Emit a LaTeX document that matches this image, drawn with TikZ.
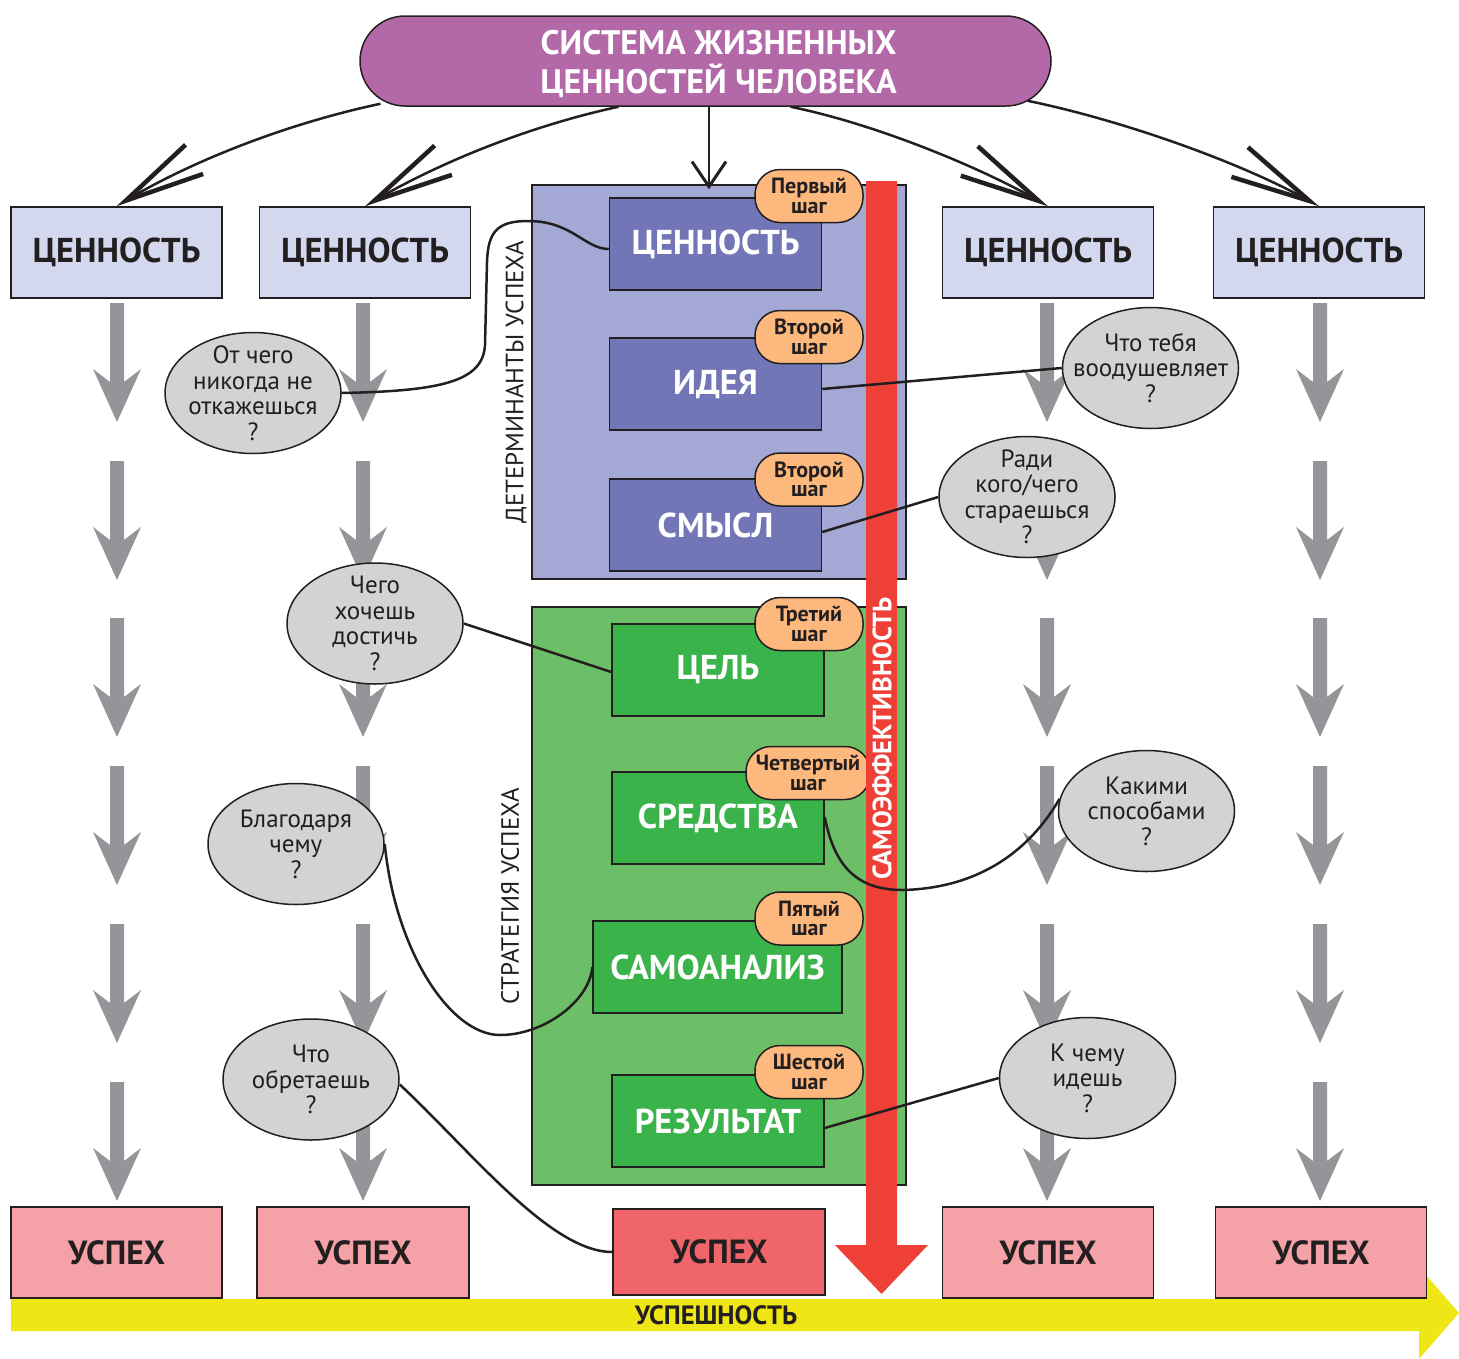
\documentclass[tikz,border=0pt]{standalone}
\usepackage{fontspec}
\setmainfont{PT Sans}
\usetikzlibrary{arrows.meta,shapes.geometric}
\definecolor{dk}{HTML}{231F20}
\definecolor{pillc}{HTML}{B368A8}
\definecolor{valc}{HTML}{D4D8EE}
\definecolor{detc}{HTML}{A3A8D5}
\definecolor{detinc}{HTML}{7376B6}
\definecolor{strc}{HTML}{6CBF67}
\definecolor{strinc}{HTML}{3AB34A}
\definecolor{badgec}{HTML}{FDB97D}
\definecolor{questc}{HTML}{D1D3D4}
\definecolor{grayc}{HTML}{939598}
\definecolor{redc}{HTML}{EE4036}
\definecolor{uspc}{HTML}{F5A1A8}
\definecolor{uspdc}{HTML}{F06569}
\definecolor{yelc}{HTML}{EFE616}
\newcommand\fsz[2]{\fontsize{#1}{#2}\selectfont}
\begin{document}
\begin{tikzpicture}[x=1pt,y=-1pt,
  pill/.style={draw=dk, line width=1.5pt, fill=pillc, rounded corners=45pt, minimum width=691pt, minimum height=90pt, inner sep=0pt},
  pilltext/.style={align=center, inner sep=0pt, text=white, font=\bfseries\fsz{34}{39}},
  valbox/.style={draw=dk, line width=1.5pt, fill=valc, minimum width=211pt, minimum height=91pt, inner sep=0pt, text=dk, font=\bfseries\fsz{34.5}{36}},
  outbox/.style={draw=dk, line width=1.5pt, minimum width=374pt, inner sep=0pt},
  detin/.style={draw=dk, line width=1.5pt, fill=detinc, minimum width=212pt, minimum height=92pt, inner sep=0pt, text=white, font=\bfseries\fsz{34.5}{36}},
  strin/.style={detin, fill=strinc},
  badge/.style={draw=dk, line width=1.5pt, fill=badgec, rounded corners=25pt, minimum width=108pt, minimum height=53pt, inner sep=0pt, align=center, text=dk, font=\bfseries\fsz{22}{19.5}},
  quest/.style={ellipse, draw=dk, line width=1.5pt, fill=questc, minimum width=176pt, minimum height=121pt, inner sep=0pt},
  qtext/.style={align=center, text=dk, inner sep=0pt, font=\fsz{25}{25.5}},
  uspbox/.style={draw=dk, line width=1.5pt, fill=uspc, minimum width=211pt, minimum height=91pt, inner sep=0pt, text=dk, font=\bfseries\fsz{33.5}{34}},
  conn/.style={draw=dk, line width=2.5pt},
  bigarr/.style={draw=dk, line width=2.5pt, -{Straight Barb[length=80pt,width=34pt,line width=4.5pt]}},
  smallarr/.style={draw=dk, line width=2.5pt, -{Straight Barb[length=25pt,width=34pt,line width=3pt]}},
  vlabel/.style={rotate=90, inner sep=0pt, text=dk, font=\fsz{25}{26}}
]
\useasboundingbox (0,0) rectangle (1459,1358);

% top pill and value boxes
\node[pill] (pill) at (705.5,61) {};
\node[pilltext] (pillt) at (718.5,64) {СИСТЕМА ЖИЗНЕННЫХ\\ЦЕННОСТЕЙ ЧЕЛОВЕКА};
\node[valbox] (v1) at (116.5,252.5) {ЦЕННОСТЬ};
\node[valbox] (v2) at (365,252.5) {ЦЕННОСТЬ};
\node[valbox] (v3) at (1048,252.5) {ЦЕННОСТЬ};
\node[valbox] (v4) at (1319,252.5) {ЦЕННОСТЬ};

% outer boxes
\node[outbox, fill=detc, minimum height=394pt] (det) at (719,382) {};
\node[outbox, fill=strc, minimum height=578pt] (str) at (719,896) {};

% arrows from the pill
\draw[bigarr] ([xshift=-325pt,yshift=3pt]pill.south) .. controls (280,125) and (185,165) .. (v1.north);
\draw[bigarr] ([xshift=-87pt]pill.south) .. controls (520,128) and (430,168) .. (v2.north);
\draw[smallarr] ([xshift=3.5pt]pill.south) -- ([xshift=-10pt,yshift=-5pt]det.north);
\draw[bigarr] ([xshift=85pt]pill.south) .. controls (880,125) and (985,170) .. (v3.north);
\draw[bigarr] ([xshift=322pt,yshift=6pt]pill.south) .. controls (1130,122) and (1245,165) .. (v4.north);

% inner boxes
\node[detin] (vin) at (715.5,244) {ЦЕННОСТЬ};
\node[detin] (idea) at (715.5,384) {ИДЕЯ};
\node[detin] (smysl) at (715.5,525) {СМЫСЛ};
\node[strin] (cel) at (718,670) {ЦЕЛЬ};
\node[strin] (sred) at (718,818) {СРЕДСТВА};
\node[strin, minimum width=249pt] (samo) at (717.5,967) {САМОАНАЛИЗ};
\node[strin] (res) at (718,1121) {РЕЗУЛЬТАТ};

\node[vlabel] (detlbl) at (516,382) {ДЕТЕРМИНАНТЫ УСПЕХА};
\node[vlabel] (strlbl) at (510,896) {СТРАТЕГИЯ УСПЕХА};

% step badges
\node[badge] (b1) at (809,196) {Первый\\шаг};
\node[badge] (b2) at (809,337) {Второй\\шаг};
\node[badge] (b3) at (809,479.5) {Второй\\шаг};
\node[badge] (b4) at (809,624) {Третий\\шаг};
\node[badge, minimum width=124pt] (b5) at (808,773) {Четвертый\\шаг};
\node[badge] (b6) at (809,918.5) {Пятый\\шаг};
\node[badge] (b7) at (809,1072) {Шестой\\шаг};

% gray arrows
\foreach \cx in {117,363,1047,1320}{
  \foreach \t in {303,461,618,766,924,1082}{
    \fill[grayc] (\cx-7,\t) -- (\cx-7,\t+79) -- (\cx-24,\t+66) -- (\cx,\t+119) -- (\cx+24,\t+66) -- (\cx+7,\t+79) -- (\cx+7,\t) -- cycle;
  }
}

% question ellipses
\node[quest] (e1) at (253,393) {};
\node[qtext] (e1t) at (e1) {От чего\\никогда не\\откажешься\\?};
\node[quest] (e2) at (375,623.5) {};
\node[qtext] (e2t) at (e2) {Чего\\хочешь\\достичь\\?};
\node[quest] (e3) at (296,844) {};
\node[qtext] (e3t) at (e3) {Благодаря\\чему\\?};
\node[quest] (e4) at (311,1079.5) {};
\node[qtext] (e4t) at (e4) {Что\\обретаешь\\?};
\node[quest] (e5) at (1150.5,368) {};
\node[qtext] (e5t) at (e5) {Что тебя\\воодушевляет\\?};
\node[quest] (e6) at (1027,497) {};
\node[qtext] (e6t) at (e6) {Ради\\кого/чего\\стараешься\\?};
\node[quest] (e7) at (1146.5,811) {};
\node[qtext] (e7t) at (e7) {Какими\\способами\\?};
\node[quest] (e8) at (1087.5,1078) {};
\node[qtext] (e8t) at (e8) {К чему\\идешь\\?};

% red self-efficacy arrow
\fill[redc] (866,181) -- (897,181) -- (897,1245) -- (928,1245) -- (881.5,1294) -- (835,1245) -- (866,1245) -- cycle;
\node[rotate=90, inner sep=0pt, text=white, font=\bfseries\fsz{26.5}{27}] (selflbl) at (882,738.5) {САМОЭФФЕКТИВНОСТЬ};

% yellow success axis and success boxes
\fill[yelc] (11,1299) -- (1419,1299) -- (1419,1267) -- (1459,1313) -- (1419,1359) -- (1419,1331) -- (11,1331) -- cycle;
\node[inner sep=0pt, text=dk, font=\bfseries\fsz{26.5}{27}] (usplbl) at (716,1315) {УСПЕШНОСТЬ};
\node[uspbox] (u1) at (116.5,1252.5) {УСПЕХ};
\node[uspbox, minimum width=212pt] (u2) at (363,1252.5) {УСПЕХ};
\node[uspbox, minimum width=212pt, minimum height=86pt, fill=uspdc] (u3) at (719,1252) {УСПЕХ};
\node[uspbox] (u4) at (1048,1252.5) {УСПЕХ};
\node[uspbox] (u5) at (1321,1252.5) {УСПЕХ};

% connectors
\draw[conn] ([yshift=-5pt]vin.west) .. controls (585,249) and (572,221) .. (528,221) .. controls (497,221) and (488,232) .. (487,262) -- (485,345) .. controls (483,382) and (440,391) .. (e1.east);
\draw[conn] ([yshift=-5pt]idea.east) -- (e5.west);
\draw[conn] ([yshift=-7pt]smysl.east) -- (e6.west);
\draw[conn] (e2.east) -- ([yshift=-2pt]cel.west);
\draw[conn] ([yshift=1pt]sred.east) .. controls (835,870) and (860,890) .. (903,890) .. controls (980,888) and (1030,850) .. (e7.172);
\draw[conn] (e3.east) .. controls (395,950) and (450,1035) .. (500,1035) .. controls (545,1035) and (590,1000) .. (samo.west);
\draw[conn] ([yshift=-5pt]e4.east) .. controls (470,1150) and (550,1252) .. (u3.west);
\draw[conn] ([yshift=-7pt]res.east) -- (e8.west);
\end{tikzpicture}
\end{document}
